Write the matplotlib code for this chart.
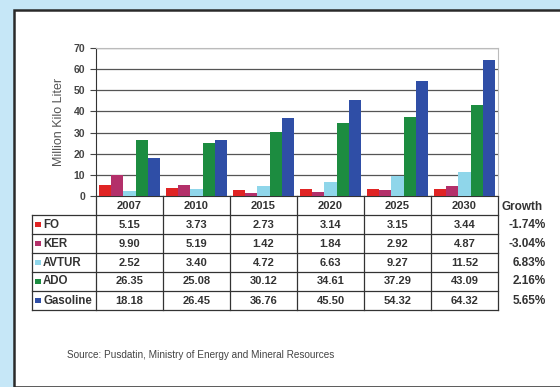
import numpy as np
import matplotlib.pyplot as plt
from matplotlib.patches import Rectangle
from matplotlib.lines import Line2D

plt.rcParams['font.family'] = ['Liberation Sans', 'DejaVu Sans']

years = ['2007', '2010', '2015', '2020', '2025', '2030']
fuels = ['FO', 'KER', 'AVTUR', 'ADO', 'Gasoline']
fo = [5.15, 3.73, 2.73, 3.14, 3.15, 3.44]
ker = [9.90, 5.19, 1.42, 1.84, 2.92, 4.87]
avtur = [2.52, 3.40, 4.72, 6.63, 9.27, 11.52]
ado = [26.35, 25.08, 30.12, 34.61, 37.29, 43.09]
gasoline = [18.18, 26.45, 36.76, 45.50, 54.32, 64.32]
growth = ['-1.74%', '-3.04%', '6.83%', '2.16%', '5.65%']
colors = ['#e02424', '#b3306a', '#8fd6ea', '#1c8c40', '#2f4ea6']
series = [fo, ker, avtur, ado, gasoline]

W, H = 560, 387
fig = plt.figure(figsize=(W / 100, H / 100), dpi=100)
fig.patch.set_facecolor('#c6e7f7')

def fx(px):
    return px / W

def fy(py):
    return 1 - py / H

# white panel with dark border
fig.patches.append(Rectangle((fx(14), 0), 1, fy(10), transform=fig.transFigure,
                             facecolor='white', edgecolor='#2a2a2a', lw=1.8, zorder=-5))

x0, x1, ytop, ybot = 96, 498, 48, 196
ax = fig.add_axes([fx(x0), fy(ybot), fx(x1 - x0), fy(ytop) - fy(ybot)], zorder=2)
ax.set_facecolor('none')
n = len(years)
x = np.arange(n)
bw = 0.18
for i, (vals, c) in enumerate(zip(series, colors)):
    ax.bar(x + (i - 2) * bw, vals, width=bw, color=c, zorder=3)
ax.set_xlim(-0.5, n - 0.5)
ax.set_ylim(0, 70)
ax.set_yticks(range(0, 71, 10))
ax.set_xticks([])
ax.yaxis.grid(True, color='#555555', lw=0.9, zorder=0)
ax.tick_params(axis='y', labelsize=7.5, length=4, pad=4, colors='#444444')
for lab in ax.get_yticklabels():
    lab.set_fontweight('bold')
for s in ['top', 'right']:
    ax.spines[s].set_color('#bbbbbb')
for s in ['left', 'bottom']:
    ax.spines[s].set_color('#333333')
ax.set_ylabel('Million Kilo Liter', fontsize=9, color='#555555', labelpad=6)

# data table below the chart
colw = (x1 - x0) / n
head_bot = 215
rowh = 19
rows_y = [head_bot + k * rowh for k in range(len(fuels) + 1)]
tbl_bot = rows_y[-1]
lc = '#333333'
fs = 8

def hline(y, xa, xb):
    fig.add_artist(Line2D([fx(xa), fx(xb)], [fy(y), fy(y)], color=lc, lw=0.9))

def vline(xv, ya, yb):
    fig.add_artist(Line2D([fx(xv), fx(xv)], [fy(ya), fy(yb)], color=lc, lw=0.9))

for k in range(n + 1):
    vline(x0 + k * colw, ybot, tbl_bot)
vline(32, head_bot, tbl_bot)
for y in rows_y:
    hline(y, 32, x1)

for j, yr in enumerate(years):
    fig.text(fx(x0 + (j + 0.5) * colw), fy((ybot + head_bot) / 2), yr,
             ha='center', va='center', fontsize=fs, fontweight='bold', color='#333333')
fig.text(fx(501), fy((ybot + head_bot) / 2 + 1), 'Growth', ha='left', va='center',
         fontsize=8.5, fontweight='bold', color='#333333')

for i, (name, vals, c) in enumerate(zip(fuels, series, colors)):
    yc = (rows_y[i] + rows_y[i + 1]) / 2
    fig.patches.append(Rectangle((fx(35), fy(yc + 2.5)), fx(6), fy(yc - 2.5) - fy(yc + 2.5),
                                 transform=fig.transFigure, facecolor=c, edgecolor='none'))
    fig.text(fx(43), fy(yc), name, ha='left', va='center', fontsize=8.3,
             fontweight='bold', color='#333333')
    for j, v in enumerate(vals):
        fig.text(fx(x0 + (j + 0.5) * colw), fy(yc), f'{v:.2f}', ha='center', va='center',
                 fontsize=fs, fontweight='bold', color='#333333')
    fig.text(fx(546), fy(yc), growth[i], ha='right', va='center', fontsize=8.5,
             fontweight='bold', color='#333333')

fig.text(fx(67), fy(355), 'Source: Pusdatin, Ministry of Energy and Mineral Resources',
         ha='left', va='center', fontsize=7.2, color='#444444')

fig.savefig('out.png', dpi=100, facecolor=fig.get_facecolor())
